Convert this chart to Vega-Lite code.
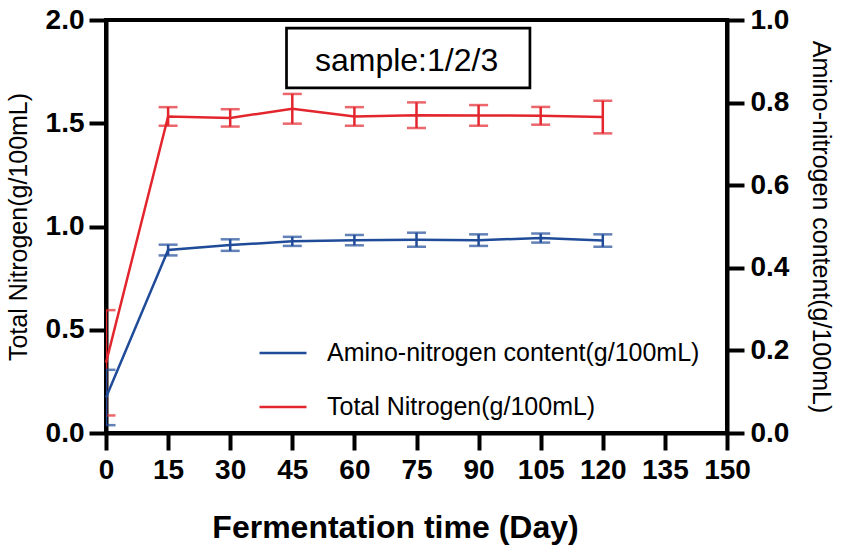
{
  "$schema": "https://vega.github.io/schema/vega-lite/v6.json",
  "width": 621,
  "height": 413,
  "autosize": {"type": "none"},
  "padding": {"left": 106, "top": 20, "right": 115, "bottom": 117},
  "background": "white",
  "config": {
    "font": "Liberation Sans",
    "view": {"stroke": "black", "strokeWidth": 4},
    "axis": {
      "grid": false,
      "domainColor": "black",
      "domainWidth": 4,
      "tickColor": "black",
      "tickWidth": 4,
      "tickSize": 17,
      "labelOverlap": false,
      "labelFlush": false,
      "labelFont": "Liberation Sans",
      "labelFontSize": 28,
      "labelFontWeight": "bold",
      "labelColor": "black",
      "titleFont": "Liberation Sans",
      "titleFontSize": 25,
      "titleFontWeight": "normal",
      "titleColor": "black"
    }
  },
  "data": {
    "values": [
      {"day": 0, "tn": 0.34, "tn_err": 0.255, "an": 0.086, "an_err": 0.067},
      {"day": 15, "tn": 1.533, "tn_err": 0.045, "an": 0.443, "an_err": 0.013},
      {"day": 30, "tn": 1.526, "tn_err": 0.042, "an": 0.455, "an_err": 0.014},
      {"day": 45, "tn": 1.57, "tn_err": 0.072, "an": 0.464, "an_err": 0.011},
      {"day": 60, "tn": 1.533, "tn_err": 0.045, "an": 0.467, "an_err": 0.0125},
      {"day": 75, "tn": 1.539, "tn_err": 0.062, "an": 0.468, "an_err": 0.017},
      {"day": 90, "tn": 1.538, "tn_err": 0.05, "an": 0.467, "an_err": 0.014},
      {"day": 105, "tn": 1.536, "tn_err": 0.043, "an": 0.472, "an_err": 0.011},
      {"day": 120, "tn": 1.53, "tn_err": 0.079, "an": 0.466, "an_err": 0.015}
    ]
  },
  "encoding": {
    "x": {
      "field": "day",
      "type": "quantitative",
      "scale": {"domain": [0, 150], "nice": false},
      "axis": {
        "values": [0, 15, 30, 45, 60, 75, 90, 105, 120, 135, 150],
        "format": "d",
        "labelPadding": 6,
        "title": "Fermentation time (Day)",
        "titleFontSize": 32,
        "titleFontWeight": "bold",
        "titlePadding": 28,
        "titleX": 289,
        "titleAlign": "center"
      }
    }
  },
  "layer": [
    {
      "encoding": {
        "y": {
          "field": "tn",
          "type": "quantitative",
          "scale": {"domain": [0, 2], "nice": false},
          "axis": {
            "orient": "left",
            "values": [0, 0.5, 1, 1.5, 2],
            "format": ".1f",
            "labelPadding": 5,
            "title": "Total Nitrogen(g/100mL)",
            "titlePadding": 14
          }
        }
      },
      "layer": [
        {
          "mark": {"type": "line", "strokeWidth": 2.5},
          "encoding": {
            "color": {
              "datum": "Total Nitrogen(g/100mL)",
              "scale": {
                "domain": ["Amino-nitrogen content(g/100mL)", "Total Nitrogen(g/100mL)"],
                "range": ["#1f4b99", "#e3262d"]
              },
              "legend": {
                "orient": "none",
                "legendX": 152,
                "legendY": 308,
                "direction": "vertical",
                "title": null,
                "symbolType": "stroke",
                "symbolSize": 2209,
                "symbolStrokeWidth": 2.5,
                "labelFont": "Liberation Sans",
                "labelFontSize": 25,
                "labelColor": "black",
                "labelLimit": 0,
                "labelOffset": 19,
                "rowPadding": 16,
                "padding": 0
              }
            }
          }
        },
        {
          "mark": {
            "type": "errorbar",
            "color": "#e3262d",
            "clip": true,
            "ticks": {"size": 19, "thickness": 2.5},
            "rule": {"strokeWidth": 2.5}
          },
          "encoding": {
            "y": {"field": "tn", "type": "quantitative"},
            "yError": {"field": "tn_err"}
          }
        },
        {
          "transform": [{"filter": "datum.day == 0"}],
          "mark": {"type": "rect", "fill": "white", "stroke": "black", "strokeWidth": 2.7},
          "encoding": {
            "x": {"datum": 43.6},
            "x2": {"datum": 102.4},
            "y": {"datum": 1.961},
            "y2": {"datum": 1.671}
          }
        },
        {
          "transform": [{"filter": "datum.day == 0"}],
          "mark": {"type": "text", "fontSize": 32, "color": "black", "align": "center", "baseline": "alphabetic"},
          "encoding": {
            "x": {"datum": 72.6},
            "y": {"datum": 1.753},
            "text": {"value": "sample:1/2/3"}
          }
        }
      ]
    },
    {
      "encoding": {
        "y": {
          "field": "an",
          "type": "quantitative",
          "scale": {"domain": [0, 1], "nice": false},
          "axis": {
            "orient": "right",
            "values": [0, 0.2, 0.4, 0.6, 0.8, 1],
            "format": ".1f",
            "labelPadding": 6,
            "title": "Amino-nitrogen content(g/100mL)",
            "titlePadding": 19
          }
        }
      },
      "layer": [
        {
          "mark": {"type": "line", "strokeWidth": 2.5},
          "encoding": {
            "color": {
              "datum": "Amino-nitrogen content(g/100mL)",
              "scale": {
                "domain": ["Amino-nitrogen content(g/100mL)", "Total Nitrogen(g/100mL)"],
                "range": ["#1f4b99", "#e3262d"]
              }
            }
          }
        },
        {
          "mark": {
            "type": "errorbar",
            "color": "#1f4b99",
            "clip": true,
            "ticks": {"size": 19, "thickness": 2.5},
            "rule": {"strokeWidth": 2.5}
          },
          "encoding": {
            "y": {"field": "an", "type": "quantitative"},
            "yError": {"field": "an_err"}
          }
        }
      ]
    }
  ],
  "resolve": {"scale": {"y": "independent"}}
}
